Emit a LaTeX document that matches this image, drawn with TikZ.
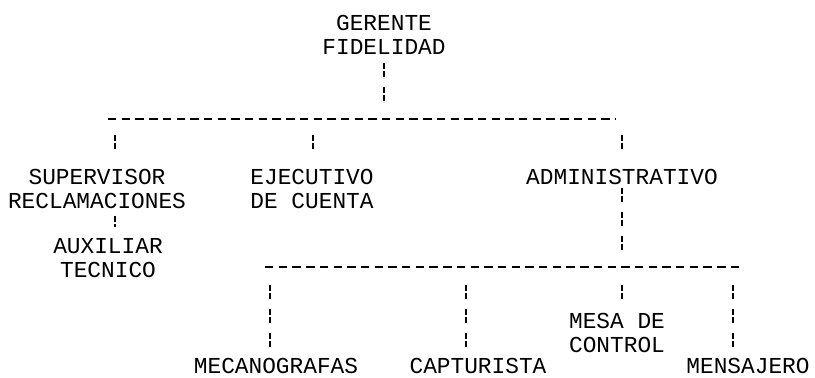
\documentclass[tikz,border=0pt]{standalone}
\usepackage{fontspec}
\setmonofont{Liberation Mono}
\usepackage{tikz}

\tikzset{
	puesto/.style={font=\ttfamily\fontsize{11.4}{12}\selectfont, align=center, inner sep=0pt},
	barra/.style={line width=0.8pt, dash pattern=on 4.2pt off 2.65pt},
	rama/.style={line width=0.8pt, dash pattern=on 3pt off 1pt on 3pt off 5pt}
}

\begin{document}
\begin{tikzpicture}[x=0.5pt,y=-0.5pt]
	\useasboundingbox (0,0) rectangle (815,378);

	\node[puesto] (gerente) at (384,35) {GERENTE\\FIDELIDAD};
	\node[puesto] (supervisor) at (97,189) {SUPERVISOR\\RECLAMACIONES};
	\node[puesto] (ejecutivo) at (312,189) {EJECUTIVO\\DE CUENTA};
	\node[puesto] (administrativo) at (622,177) {ADMINISTRATIVO};
	\node[puesto] (auxiliar) at (108,258) {AUXILIAR\\TECNICO};
	\node[puesto] (mesa) at (617,333) {MESA DE\\CONTROL};
	\node[puesto] (mecanografas) at (276,366) {MECANOGRAFAS};
	\node[puesto] (capturista) at (478,366) {CAPTURISTA};
	\node[puesto] (mensajero) at (748,366) {MENSAJERO};

	\coordinate (sup1) at (108,119);
	\coordinate (sup2) at (615,119);
	\coordinate (inf1) at (265,267);
	\coordinate (inf2) at (740,267);
	\draw[barra] (sup1) -- (sup2);
	\draw[barra] (inf1) -- (inf2);

	\draw[rama, shorten <=3.75pt, shorten >=8.5pt] (gerente.south) -- (gerente.south |- sup1);
	\foreach \j/\n in {115/supervisor, 313/ejecutivo, 622/administrativo}
	{
		\coordinate (r\n) at (\j,119);
		\draw[rama, shorten <=8pt, shorten >=5.5pt] (r\n) -- (r\n |- \n.north);
	}
	\draw[rama, shorten <=3.25pt, shorten >=5.25pt] (rsupervisor |- supervisor.south) -- (rsupervisor |- auxiliar.north);
	\draw[rama, shorten <=1.25pt, shorten >=8.5pt] (administrativo.south) -- (administrativo.south |- inf1);
	\foreach \j/\n in {270/mecanografas, 466/capturista, 622/mesa, 733/mensajero}
	{
		\coordinate (r\n) at (\j,267);
		\draw[rama, shorten <=9pt, shorten >=4.25pt] (r\n) -- (r\n |- \n.north);
	}
\end{tikzpicture}
\end{document}
